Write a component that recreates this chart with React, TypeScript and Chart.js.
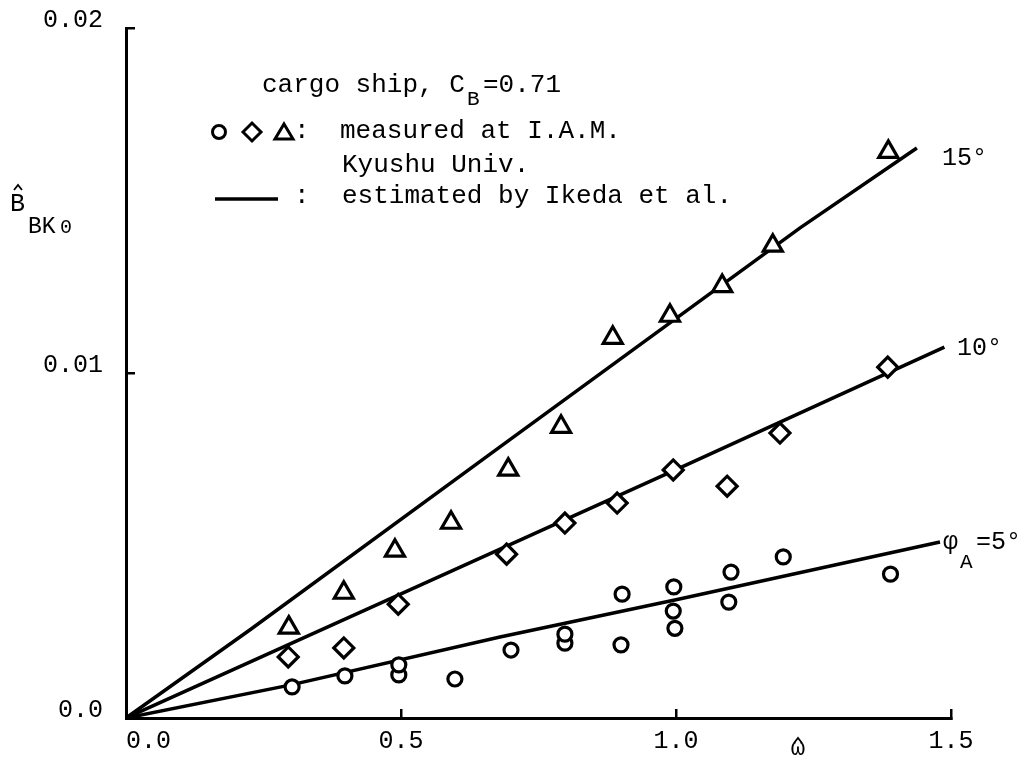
import React, { useEffect, useRef } from 'react';
import { Chart, registerables } from 'chart.js';

Chart.register(...registerables);

// Axis ticks
const xTickValues = [0, 0.5, 1.0, 1.5];
const xTickLabels = ['0.0', '0.5', '1.0', '1.5'];
const yTickValues = [0, 0.01, 0.02];
const yTickLabels = ['0.0', '0.01', '0.02'];

// Measured (circles, phi_A = 5 deg)
const circleX = [0.302, 0.398, 0.496, 0.496, 0.598, 0.700, 0.798, 0.798, 0.900, 0.902, 0.995, 0.996, 0.998, 1.096, 1.100, 1.195, 1.390];
const circleY = [0.0009, 0.00122, 0.00125, 0.00154, 0.00113, 0.00197, 0.00217, 0.00243, 0.00212, 0.00359, 0.0031, 0.0038, 0.0026, 0.00336, 0.00423, 0.00467, 0.00417];

// Measured (diamonds, 10 deg)
const diamondX = [0.295, 0.396, 0.495, 0.692, 0.798, 0.893, 0.995, 1.093, 1.189, 1.385];
const diamondY = [0.00177, 0.00203, 0.0033, 0.00475, 0.00565, 0.00623, 0.00719, 0.00672, 0.00826, 0.01017];

// Measured (triangles, 15 deg)
const triangleX = [0.296, 0.396, 0.489, 0.591, 0.695, 0.791, 0.885, 0.989, 1.084, 1.176, 1.386];
const triangleY = [0.00262, 0.00363, 0.00485, 0.00566, 0.0072, 0.00844, 0.01102, 0.01166, 0.01252, 0.01369, 0.01641];

// Estimated by Ikeda et al.
const est5X = [0, 0.3, 0.68, 1.0, 1.48];
const est5Y = [0, 0.00096, 0.00235, 0.00343, 0.0051];
const est10X = [0, 0.5, 1.0, 1.488];
const est10Y = [0, 0.0036, 0.0072, 0.01075];
const est15X = [0, 0.225, 0.68, 1.225, 1.438];
const est15Y = [0, 0.00255, 0.00786, 0.0142, 0.01652];

const pts = (xs: number[], ys: number[]) => xs.map((x, i) => ({ x, y: ys[i] }));

const MONO = '"Liberation Mono", "DejaVu Sans Mono", monospace';

const drawHat = (ctx: CanvasRenderingContext2D, cx: number, top: number) => {
  ctx.beginPath();
  ctx.moveTo(cx - 4, top + 5);
  ctx.lineTo(cx, top);
  ctx.lineTo(cx + 4, top + 5);
  ctx.stroke();
};

const annotationPlugin = {
  id: 'annotations',
  afterDraw(chart: any) {
    const ctx = chart.ctx as CanvasRenderingContext2D;
    ctx.save();
    ctx.fillStyle = '#000';
    ctx.strokeStyle = '#000';
    ctx.textBaseline = 'alphabetic';
    ctx.textAlign = 'left';

    // header text
    ctx.font = `26px ${MONO}`;
    ctx.fillText('cargo ship, C', 262, 92);
    ctx.font = `21px ${MONO}`;
    ctx.fillText('B', 467, 105);
    ctx.font = `26px ${MONO}`;
    ctx.fillText('=0.71', 483, 92);

    // legend symbols
    ctx.lineWidth = 3;
    ctx.beginPath();
    ctx.arc(219, 132, 6.5, 0, Math.PI * 2);
    ctx.stroke();
    ctx.beginPath();
    ctx.moveTo(243, 132);
    ctx.lineTo(252, 123);
    ctx.lineTo(261, 132);
    ctx.lineTo(252, 141);
    ctx.closePath();
    ctx.stroke();
    ctx.beginPath();
    ctx.moveTo(284, 124);
    ctx.lineTo(293, 139);
    ctx.lineTo(275, 139);
    ctx.closePath();
    ctx.stroke();
    ctx.fillText(':', 294, 138);
    ctx.fillText('measured at I.A.M.', 340, 138);
    ctx.fillText('Kyushu Univ.', 342, 172);
    ctx.lineWidth = 3.5;
    ctx.beginPath();
    ctx.moveTo(215, 199);
    ctx.lineTo(278, 199);
    ctx.stroke();
    ctx.fillText(':', 294, 203);
    ctx.fillText('estimated by Ikeda et al.', 342, 203);

    // curve labels
    ctx.font = `25px ${MONO}`;
    ctx.fillText('15°', 942, 165);
    ctx.fillText('10°', 957, 355);
    ctx.fillText('φ', 943, 549);
    ctx.fillText('=5°', 976, 549);
    ctx.font = `21px ${MONO}`;
    ctx.fillText('A', 960, 568);

    // axis titles
    ctx.font = `25px ${MONO}`;
    ctx.fillText('B', 10, 211);
    ctx.lineWidth = 1.8;
    drawHat(ctx, 18, 185);
    ctx.font = `23px ${MONO}`;
    ctx.fillText('BK', 28, 233);
    ctx.font = `20px ${MONO}`;
    ctx.fillText('0', 60, 233);
    ctx.textAlign = 'center';
    ctx.font = `24px ${MONO}`;
    ctx.fillText('\u03C9', 798, 755);
    drawHat(ctx, 798, 738);
    ctx.restore();
  },
};

export default function App() {
  const ref = useRef<HTMLCanvasElement>(null);

  useEffect(() => {
    const canvas = ref.current;
    if (!canvas) return;
    const chart = new Chart(canvas, {
      type: 'scatter',
      data: {
        datasets: [
          {
            label: 'circles',
            data: pts(circleX, circleY),
            pointStyle: 'circle',
            pointRadius: 7,
            pointBorderWidth: 3.2,
            borderColor: '#000',
            backgroundColor: '#fff',
            showLine: false,
          },
          {
            label: 'diamonds',
            data: pts(diamondX, diamondY),
            pointStyle: 'rectRot',
            pointRadius: 10,
            pointBorderWidth: 3.2,
            borderColor: '#000',
            backgroundColor: '#fff',
            showLine: false,
          },
          {
            label: 'triangles',
            data: pts(triangleX, triangleY),
            pointStyle: 'triangle',
            pointRadius: 11,
            pointBorderWidth: 3.2,
            borderColor: '#000',
            backgroundColor: '#fff',
            showLine: false,
          },
          {
            label: 'est 5',
            data: pts(est5X, est5Y),
            showLine: true,
            pointRadius: 0,
            borderColor: '#000',
            borderWidth: 3.5,
            tension: 0,
            fill: false,
          },
          {
            label: 'est 10',
            data: pts(est10X, est10Y),
            showLine: true,
            pointRadius: 0,
            borderColor: '#000',
            borderWidth: 3.5,
            tension: 0,
            fill: false,
          },
          {
            label: 'est 15',
            data: pts(est15X, est15Y),
            showLine: true,
            pointRadius: 0,
            borderColor: '#000',
            borderWidth: 3.5,
            tension: 0,
            fill: false,
          },
        ],
      },
      options: {
        animation: false,
        responsive: false,
        layout: { padding: { left: 0, right: 75, top: 28, bottom: 0 } },
        plugins: {
          legend: { display: false },
          tooltip: { enabled: false },
          title: { display: false },
        },
        scales: {
          x: {
            type: 'linear',
            position: 'bottom',
            min: 0,
            max: 1.5,
            afterBuildTicks: (s: any) => {
              s.ticks = xTickValues.map((v) => ({ value: v }));
            },
            afterFit: (s: any) => {
              s.height = 39;
              s.paddingLeft = 0;
              s.paddingRight = 0;
            },
            ticks: {
              autoSkip: false,
              maxRotation: 0,
              padding: 17,
              color: '#000',
              font: { family: MONO, size: 25 },
              callback: (v: any) => {
                const k = xTickValues.indexOf(Number(v));
                const lbl = k >= 0 ? xTickLabels[k] : '';
                return k === 0 ? '   ' + lbl : lbl;
              },
            },
            grid: { drawOnChartArea: false, drawTicks: true, tickLength: -9, color: '#000', lineWidth: 2.5 },
            border: { display: true, color: '#000', width: 3 },
          },
          y: {
            type: 'linear',
            position: 'left',
            min: 0,
            max: 0.02,
            afterBuildTicks: (s: any) => {
              s.ticks = yTickValues.map((v) => ({ value: v }));
            },
            afterFit: (s: any) => {
              s.width = 126;
              s.paddingTop = 0;
              s.paddingBottom = 0;
            },
            ticks: {
              autoSkip: false,
              padding: 32,
              labelOffset: -8,
              color: '#000',
              font: { family: MONO, size: 25 },
              callback: (v: any) => {
                const k = yTickValues.indexOf(Number(v));
                return k >= 0 ? yTickLabels[k] : '';
              },
            },
            grid: { drawOnChartArea: false, drawTicks: true, tickLength: -9, color: '#000', lineWidth: 2.5 },
            border: { display: true, color: '#000', width: 3 },
          },
        },
      },
      plugins: [annotationPlugin],
    } as any);
    return () => chart.destroy();
  }, []);

  return (
    <div style={{ position: 'fixed', left: 0, top: 0, width: 1026, height: 757, background: '#fff' }}>
      <canvas ref={ref} width={1026} height={757} style={{ display: 'block', width: 1026, height: 757 }} />
    </div>
  );
}
